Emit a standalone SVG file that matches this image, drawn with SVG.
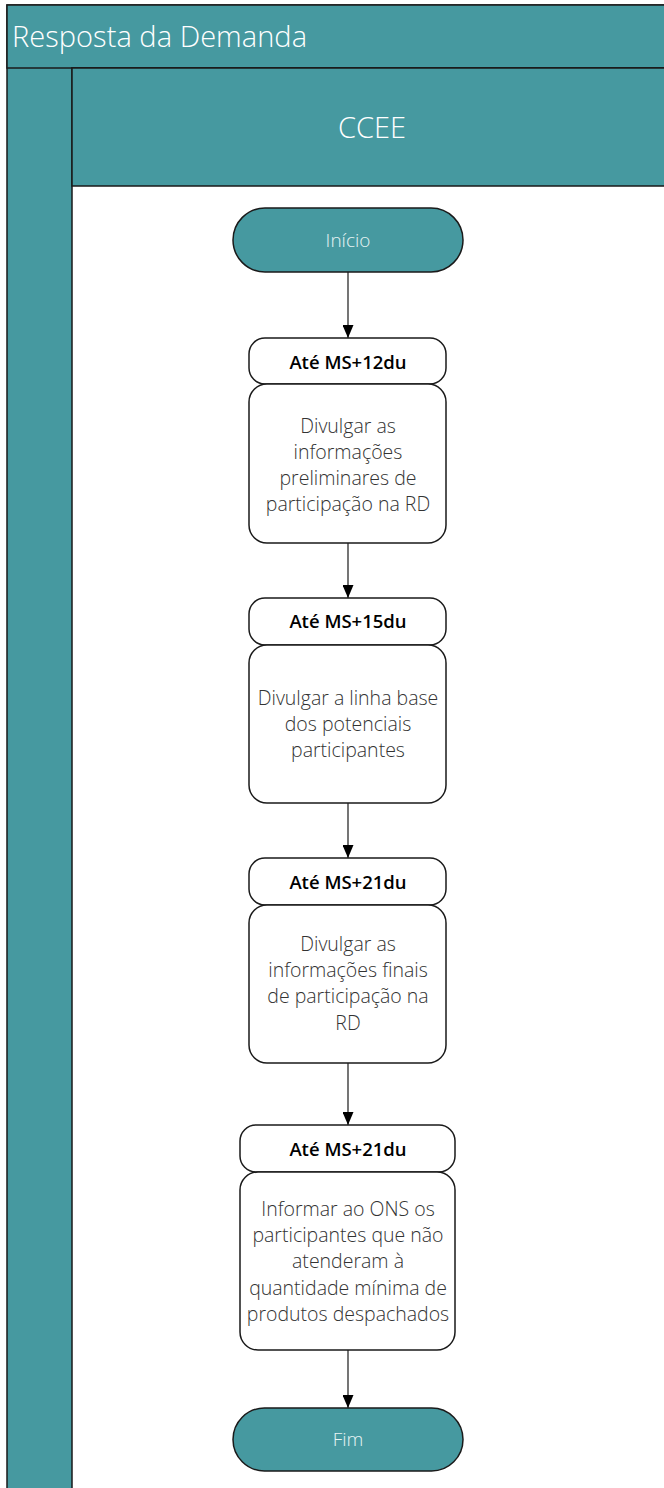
<svg xmlns="http://www.w3.org/2000/svg" width="664" height="1488" viewBox="0 0 664 1488">
<style>
.lane{fill:#4699a0;stroke:#1a1a1a;stroke-width:1.5}
.term{fill:#4699a0;stroke:#1a1a1a;stroke-width:1.5}
.box{fill:#fff;stroke:#1a1a1a;stroke-width:1.5}
.tt{font-family:"Open Sans","Liberation Sans",sans-serif;fill:#e8f4f4;font-size:19px;text-anchor:middle;font-weight:300}
.hd{font-family:"Open Sans","Liberation Sans",sans-serif;fill:#000;font-size:18.5px;text-anchor:middle;font-weight:600}
.bd{font-family:"Open Sans","Liberation Sans",sans-serif;fill:#333;font-size:19.5px;text-anchor:middle;font-weight:300}
.ttl{font-family:"Open Sans","Liberation Sans",sans-serif;fill:#fff;font-size:29px;font-weight:300}
.conn{stroke:#1a1a1a;stroke-width:1.2;fill:none;marker-end:url(#ah)}
</style>
<defs>
<marker id="ah" markerWidth="13" markerHeight="11" refX="13" refY="5.5" orient="auto" markerUnits="userSpaceOnUse" viewBox="0 0 13 11">
<path d="M0,0 L13,5.5 L0,11 Z" fill="#000"/>
</marker>
</defs>
<g id="pool">
<rect x="7" y="5" width="665" height="1490" class="lane"/>
<rect x="7" y="5" width="665" height="63" class="lane"/>
<text x="12" y="47" class="ttl" textLength="295">Resposta da Demanda</text>
</g>
<g id="lane-ccee">
<rect x="72" y="68" width="600" height="1430" fill="#fff" stroke="#1a1a1a" stroke-width="1.5"/>
<rect x="72" y="68" width="600" height="118" class="lane"/>
<text x="372" y="138" class="ttl" text-anchor="middle">CCEE</text>
</g>
<g id="connectors">
<line x1="348" y1="272" x2="348" y2="338" class="conn"/>
<line x1="348" y1="543" x2="348" y2="598" class="conn"/>
<line x1="348" y1="803" x2="348" y2="858" class="conn"/>
<line x1="348" y1="1063" x2="348" y2="1125" class="conn"/>
<line x1="348" y1="1350" x2="348" y2="1408" class="conn"/>
</g>
<g id="inicio">
<rect x="233" y="208" width="230" height="64" rx="32" class="term"/>
<text x="348" y="247" class="tt">Início</text>
</g>
<g id="task1">
<rect x="249" y="338" width="197" height="46" rx="16" class="box"/>
<text x="348" y="369" class="hd">Até MS+12du</text>
<rect x="249" y="384" width="197" height="159" rx="18" class="box"/>
<text class="bd"><tspan x="348" y="433">Divulgar as</tspan><tspan x="348" y="459">informações</tspan><tspan x="348" y="485">preliminares de</tspan><tspan x="348" y="511">participação na RD</tspan></text>
</g>
<g id="task2">
<rect x="249" y="598" width="197" height="47" rx="16" class="box"/>
<text x="348" y="628" class="hd">Até MS+15du</text>
<rect x="249" y="645" width="197" height="158" rx="18" class="box"/>
<text class="bd"><tspan x="348" y="705">Divulgar a linha base</tspan><tspan x="348" y="731">dos potenciais</tspan><tspan x="348" y="757">participantes</tspan></text>
</g>
<g id="task3">
<rect x="249" y="858" width="197" height="47" rx="16" class="box"/>
<text x="348" y="889" class="hd">Até MS+21du</text>
<rect x="249" y="905" width="197" height="158" rx="18" class="box"/>
<text class="bd"><tspan x="348" y="951">Divulgar as</tspan><tspan x="348" y="977">informações finais</tspan><tspan x="348" y="1003">de participação na</tspan><tspan x="348" y="1030">RD</tspan></text>
</g>
<g id="task4">
<rect x="240" y="1125" width="215" height="47" rx="16" class="box"/>
<text x="348" y="1156" class="hd">Até MS+21du</text>
<rect x="240" y="1172" width="215" height="178" rx="18" class="box"/>
<text class="bd"><tspan x="348" y="1216">Informar ao ONS os</tspan><tspan x="348" y="1242">participantes que não</tspan><tspan x="348" y="1268">atenderam à</tspan><tspan x="348" y="1295">quantidade mínima de</tspan><tspan x="348" y="1321">produtos despachados</tspan></text>
</g>
<g id="fim">
<rect x="233" y="1408" width="230" height="63" rx="31.5" class="term"/>
<text x="348" y="1446" class="tt">Fim</text>
</g>
</svg>
